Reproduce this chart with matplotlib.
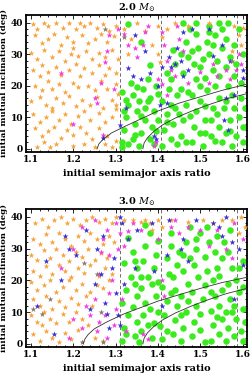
import numpy as np
import matplotlib
matplotlib.use("Agg")
import matplotlib.pyplot as plt

plt.rcParams['font.family'] = 'DejaVu Serif'
plt.rcParams['mathtext.fontset'] = 'dejavuserif'

# resonance locations (dashed lines)
res_lines = [1.3104, 1.4057, 1.5874]

# ---------------- top panel: 2.0 Msun ----------------
orange_top = [
    (1.105,39.5),(1.115,38),(1.13,40),(1.14,39),(1.16,40),(1.175,38.5),(1.19,39.8),(1.205,38),(1.215,40),
    (1.225,39),(1.24,40),(1.255,38.5),(1.27,39.6),(1.285,37.5),(1.3,39),
    (1.11,36),(1.125,33.5),(1.14,35),(1.155,36.5),(1.17,33),(1.185,35.5),(1.2,34),(1.22,36),(1.235,33.5),
    (1.25,35),(1.265,36.5),(1.28,34),(1.295,35.8),
    (1.1,30.5),(1.115,28.5),(1.13,31.5),(1.15,29),(1.165,31),(1.18,28),(1.195,30),(1.2,32),(1.21,29.5),
    (1.23,31),(1.245,28.5),(1.26,30.5),(1.275,29),(1.29,31.5),(1.305,28.5),
    (1.105,25),(1.12,23),(1.125,26.5),(1.14,24.5),(1.16,26),(1.17,23.5),(1.19,25),(1.205,27),(1.215,23),
    (1.225,25.5),(1.245,24),(1.26,26.5),(1.275,23.5),(1.285,25.5),(1.3,24),
    (1.11,20),(1.125,18.5),(1.14,21.5),(1.15,19),(1.165,20.5),(1.18,18),(1.2,21),(1.21,19.5),(1.235,20),
    (1.25,18.5),(1.265,21.5),(1.28,19),(1.3,20.5),(1.305,17.5),
    (1.1,15),(1.12,16.5),(1.135,14),(1.15,13),(1.16,16),(1.175,14.5),(1.19,16.8),(1.205,13.5),(1.22,15.5),
    (1.24,14),(1.255,16.5),(1.27,13),(1.29,15.5),(1.3,13.8),
    (1.105,11),(1.12,8.5),(1.135,10),(1.15,12),(1.165,9),(1.18,11),(1.195,8),(1.21,10.5),(1.225,12),
    (1.24,9),(1.26,11.5),(1.275,8.5),(1.29,10),(1.3,12.5),
    (1.11,6.5),(1.125,4),(1.14,5.5),(1.155,7),(1.17,3.5),(1.185,6),(1.2,4.5),(1.215,7),(1.23,5),
    (1.245,3),(1.26,6.5),(1.28,4),(1.3,2.5),
    (1.115,0.5),(1.13,2),(1.145,0.5),(1.16,1.5),(1.2,0.8),(1.225,1.5),(1.25,0.5),(1.275,1.5),(1.29,0.5),
    (1.32,38),(1.335,35),(1.35,40),(1.33,30),(1.37,37.5),(1.385,33),(1.4,39),(1.41,35.5),(1.42,38),
    (1.4,30),(1.405,27.5),(1.44,40),(1.47,39),(1.58,39),(1.59,36),(1.595,33),(1.575,31),(1.6,38.5),(1.52,40),
]
green_top = [
    (1.315,2),(1.32,6),(1.325,10),(1.33,14),(1.315,18),(1.335,21),(1.34,3),(1.345,8),(1.35,12),(1.34,17),
    (1.33,39.5),(1.315,0.5),
    (1.355,1),(1.36,5),(1.37,9),(1.355,15),(1.365,19),(1.375,22),(1.38,3),(1.385,7),(1.39,12),(1.38,16),
    (1.395,20),(1.36,34),(1.38,26.5),(1.37,13),(1.395,5.5),(1.4,9),
    (1.41,1),(1.415,6),(1.42,11),(1.41,15),(1.425,19),(1.43,3),(1.435,8),(1.44,13),(1.445,17),(1.43,22),
    (1.42,24),(1.445,1.5),(1.44,27),(1.435,31.5),
    (1.455,4),(1.46,9),(1.465,14),(1.455,19),(1.46,24),(1.47,29),(1.465,34),(1.475,38),(1.48,2),(1.485,7),
    (1.49,12),(1.48,17),(1.49,22),(1.485,27),(1.495,32),(1.49,36.5),(1.5,5),(1.5,15),(1.5,26),(1.475,10.5),
    (1.505,1),(1.51,9),(1.515,18.5),(1.51,22.5),(1.52,30),(1.515,34),(1.52,39),(1.525,4),(1.53,13),
    (1.535,20),(1.53,25),(1.54,28),(1.535,36),(1.545,7),(1.545,16),(1.54,11),(1.55,2),(1.55,32),(1.52,37),
    (1.505,28.5),
    (1.555,13),(1.56,5),(1.565,20),(1.56,26),(1.57,9),(1.575,1),(1.575,17),(1.58,13),(1.58,23),(1.585,4),
    (1.59,10),(1.595,16),(1.6,2),(1.6,7),(1.605,13),(1.595,21),(1.57,29),(1.56,35),(1.565,40),(1.58,33),
    (1.55,38),(1.545,40),
    (1.32,12),(1.33,1.5),(1.345,4.5),(1.36,10.5),(1.375,15),(1.39,1.5),(1.4,17.5),(1.42,8.5),(1.43,14),
    (1.45,11),(1.465,2),(1.47,18),(1.48,31),(1.5,20),(1.51,13.5),(1.525,9),(1.535,2.5),(1.545,23),(1.56,15),
    (1.57,5.5),(1.585,27),(1.6,30),(1.59,38),(1.46,40),(1.455,30),(1.49,40),(1.53,33),(1.51,5),(1.35,19.5),
    (1.325,15.5),
]
magenta_top = [
    (1.17,24),(1.2,8),(1.25,16),(1.255,14.5),(1.265,21),(1.28,31),(1.285,36),(1.275,27.5),(1.295,19),
    (1.305,38),(1.32,36.5),(1.33,33),(1.345,32),(1.35,29),(1.365,33),(1.37,37),(1.375,39),(1.41,37),
    (1.415,33),(1.42,28),(1.43,25),(1.41,20.5),(1.4,22),(1.42,17),(1.44,23),(1.45,35),(1.46,31),(1.445,39),
    (1.5,24.5),(1.52,21),(1.54,23),(1.56,25),(1.57,22),(1.585,25),(1.595,27),(1.59,30),(1.53,27),
    (1.395,2),(1.39,1),(1.47,21),(1.27,4.5),
]
blue_top = [
    (1.27,3.5),(1.31,7.5),(1.325,13),(1.33,25.5),(1.34,23),(1.36,22),(1.345,36),(1.37,31),(1.38,24),
    (1.4,20),(1.405,14),(1.41,26),(1.425,29),(1.43,26),(1.44,27),(1.445,32),(1.455,28),(1.46,37),(1.48,38),
    (1.47,25),(1.42,14.5),(1.39,4),(1.53,29.5),(1.55,33),(1.57,28),(1.6,22.5),(1.56,16),(1.555,9),
    (1.565,6),(1.58,17),(1.6,25),(1.395,3),(1.52,38),(1.46,23),
]
gray_top = [(1.32,35.5),(1.575,28),(1.275,38)]

curve1_top_x = [1.256, 1.26, 1.27, 1.29, 1.32, 1.36, 1.40, 1.45, 1.50, 1.55, 1.61]
curve1_top_y = [0.0, 1.5, 3.0, 5.0, 7.0, 9.5, 12.0, 14.5, 16.5, 18.5, 20.5]
curve2_top_x = [1.364, 1.367, 1.375, 1.39, 1.41, 1.44, 1.48, 1.52, 1.56, 1.61]
curve2_top_y = [0.0, 1.8, 3.5, 5.5, 7.5, 9.7, 12.0, 14.0, 15.8, 17.5]

# ---------------- bottom panel: 3.0 Msun ----------------
orange_bot = [
    (1.11,38),(1.125,39.5),(1.14,37),(1.155,39),(1.17,40),(1.185,38),(1.2,39.5),(1.215,37.5),(1.23,39),
    (1.245,40),(1.26,38.5),(1.275,39.5),(1.29,38),(1.3,40),
    (1.105,33),(1.12,31.5),(1.135,34.5),(1.15,32),(1.165,35),(1.18,33),(1.195,31),(1.21,34),(1.225,32.5),
    (1.24,35),(1.255,33),(1.27,31.5),(1.285,34),(1.295,32),
    (1.1,28),(1.115,26.5),(1.13,29.5),(1.145,27),(1.16,30),(1.175,28),(1.19,26),(1.205,29),(1.22,27.5),
    (1.235,30),(1.25,26.5),(1.265,28.5),(1.28,27),
    (1.105,23),(1.12,21.5),(1.135,24.5),(1.15,22),(1.165,25),(1.18,23),(1.195,21),(1.21,24),(1.225,22.5),
    (1.24,25),(1.26,21.5),(1.275,24),(1.29,22),
    (1.1,19.5),(1.115,17),(1.13,18.5),(1.145,20),(1.16,16.5),(1.175,18),(1.19,20),(1.205,17),(1.22,19),
    (1.24,16.5),(1.255,18.5),(1.27,17.5),(1.285,20),
    (1.105,14),(1.12,12),(1.135,15),(1.15,11),(1.165,13.5),(1.18,11.5),(1.195,14.5),(1.21,12.5),(1.23,15),
    (1.245,12),
    (1.1,9),(1.115,7),(1.125,6),(1.13,10),(1.145,8),(1.16,6.5),(1.175,9.5),(1.19,7),(1.205,10),(1.22,8),
    (1.235,6),
    (1.105,3),(1.12,1),(1.135,4),(1.15,2),(1.165,0.5),(1.18,3.5),(1.195,1.5),(1.21,4.5),(1.25,2),(1.27,1),
    (1.37,39),(1.38,38),(1.385,36),(1.4,39),(1.41,37),(1.36,38.5),(1.43,39),(1.47,38.5),(1.505,39),
    (1.53,38),(1.55,39),(1.575,39),(1.595,40),(1.59,35),(1.605,37),(1.32,39),(1.34,39),
]
green_bot = [
    (1.315,1),(1.32,5),(1.33,9),(1.315,13),(1.325,17),(1.335,21),(1.32,25.5),(1.34,29),(1.345,2.5),
    (1.35,7),(1.34,11.5),(1.35,15),(1.345,19),(1.33,33.5),(1.35,24),
    (1.355,0.5),(1.36,4),(1.365,9),(1.37,13),(1.36,17.5),(1.375,21),(1.365,26),(1.37,31),(1.38,35),
    (1.385,2),(1.39,6.5),(1.38,11),(1.395,15),(1.385,19),(1.39,24),(1.395,28),(1.4,10),(1.37,37.5),
    (1.41,1.5),(1.405,5.5),(1.415,9),(1.42,13.5),(1.41,18),(1.425,22),(1.42,27),(1.43,31),(1.435,3),
    (1.44,7.5),(1.445,12),(1.44,17),(1.435,21),(1.445,25),(1.45,29),
    (1.455,1),(1.46,5),(1.465,10),(1.455,15),(1.47,19),(1.46,23),(1.475,27),(1.465,32),(1.48,2.5),
    (1.485,7),(1.49,12),(1.48,16.5),(1.495,21),(1.485,25),(1.49,30),(1.5,35),(1.5,4.5),(1.5,9.5),(1.475,37),
    (1.505,14),(1.51,18.5),(1.515,23),(1.51,27.5),(1.52,32),(1.525,1),(1.53,6),(1.525,10.5),(1.535,15),
    (1.53,20),(1.54,24),(1.535,29),(1.545,3),(1.55,8),(1.545,12),(1.55,17),(1.545,21.5),(1.55,27),(1.54,34),
    (1.56,1),(1.565,5),(1.56,10),(1.57,14),(1.565,19),(1.575,24),(1.58,2.5),(1.585,8),(1.58,12),(1.59,16.5),
    (1.585,20),(1.595,4),(1.6,11),(1.6,18),(1.605,7),(1.6,1),(1.565,29),(1.555,32),(1.6,26),(1.57,36),
    (1.325,3),(1.345,26),(1.36,21),(1.375,6),(1.4,19.5),(1.42,4),(1.43,16),(1.455,9),(1.47,13.5),
    (1.49,33),(1.515,37),(1.525,16.5),(1.54,8.5),(1.575,10),(1.59,24),(1.51,0.5),(1.46,28),(1.4,32.5),(1.43,35),
]
magenta_bot = [
    (1.17,24),(1.2,30),(1.19,2),(1.2,8),(1.22,5),(1.23,12),(1.24,9),(1.25,14),(1.255,4),(1.26,22),
    (1.265,29),(1.27,33),(1.275,9),(1.28,2),(1.285,16),(1.29,20),(1.3,11),(1.295,6),(1.305,30),(1.28,36),
    (1.3,38),(1.31,35),(1.33,35.5),(1.32,31),(1.315,14),(1.325,4),(1.34,38),(1.36,36),(1.4,33),(1.415,15),
    (1.43,37),(1.44,39),(1.45,35),(1.47,37),(1.5,36),(1.52,31),(1.54,36),(1.56,30),(1.58,38),(1.6,33),
    (1.575,27),(1.41,20),(1.375,1.5),(1.365,3),(1.26,7),(1.285,28),(1.22,37),(1.25,39),
]
blue_bot = [
    (1.115,12),(1.135,26),(1.155,3),(1.18,34),(1.19,30),(1.205,28),(1.17,20),(1.23,36),(1.24,11),(1.25,19),
    (1.255,30),(1.265,22),(1.275,13),(1.285,5),(1.27,34),(1.29,24),(1.3,16),(1.305,9),(1.31,40),(1.315,38),
    (1.295,27),(1.32,19),(1.33,33),(1.345,24),(1.35,36),(1.385,38),(1.39,23),(1.41,12),(1.42,28),(1.425,39),
    (1.455,30),(1.46,33),(1.47,26),(1.49,39),(1.53,38),(1.55,34),(1.56,40),(1.575,32),(1.59,30),(1.6,25),
    (1.58,14),(1.545,37),(1.28,9.5),(1.31,6),
]
gray_bot = [(1.105,11),(1.125,9.5),(1.145,14),(1.225,25.5),(1.255,22),(1.265,10),(1.22,0.5),(1.27,0.5)]

curve1_bot_x = [1.223, 1.227, 1.235, 1.25, 1.28, 1.32, 1.36, 1.40, 1.45, 1.50, 1.55, 1.61]
curve1_bot_y = [0.0, 1.5, 3.0, 4.8, 7.0, 9.5, 11.5, 13.5, 15.5, 17.5, 19.3, 21.0]
curve2_bot_x = curve2_top_x
curve2_bot_y = curve2_top_y

c_orange = '#F5A33A'
c_green = '#3CEB1E'
c_magenta = '#F23CE0'
c_blue = '#3A2FD0'
c_gray = '#8C7A6A'

fig = plt.figure(figsize=(2.5, 3.74), dpi=100)
ax1 = fig.add_axes([0.104, 0.594, 0.884, 0.366])
ax2 = fig.add_axes([0.104, 0.072, 0.884, 0.369])

panels = [
    (ax1, r'$\mathbf{2.0}\ M_{\odot}$', orange_top, green_top, magenta_top, blue_top, gray_top,
     (curve1_top_x, curve1_top_y), (curve2_top_x, curve2_top_y)),
    (ax2, r'$\mathbf{3.0}\ M_{\odot}$', orange_bot, green_bot, magenta_bot, blue_bot, gray_bot,
     (curve1_bot_x, curve1_bot_y), (curve2_bot_x, curve2_bot_y)),
]

for ax, title, orange, green, magenta, blue, gray, c1, c2 in panels:
    def sc(pts, **kw):
        p = np.array(pts)
        ax.scatter(p[:, 0], p[:, 1], linewidths=0, **kw)
    sc(orange, s=20, marker='*', color=c_orange, zorder=3)
    sc(green, s=22, marker='o', color=c_green, zorder=2)
    sc(magenta, s=20, marker='*', color=c_magenta, zorder=4)
    sc(blue, s=20, marker='*', color=c_blue, zorder=4)
    sc(gray, s=20, marker='*', color=c_gray, zorder=4)
    for xv in res_lines:
        ax.axvline(xv, color='#555555', ls=(0, (4, 3)), lw=0.6, zorder=1)
    ax.plot(c1[0], c1[1], color='#333333', lw=0.6, zorder=5)
    ax.plot(c2[0], c2[1], color='#333333', lw=0.6, zorder=5)

    ax.set_xlim(1.088, 1.61)
    ax.set_ylim(-1.0, 42.5)
    ax.set_xticks([1.1, 1.2, 1.3, 1.4, 1.5, 1.6])
    ax.set_xticklabels(['1.1', '1.2', '1.3', '1.4', '1.5', '1.6'])
    ax.set_yticks([0, 10, 20, 30, 40])
    ax.set_xticks(np.arange(1.1, 1.61, 0.02), minor=True)
    ax.set_yticks(np.arange(0, 42, 2), minor=True)
    ax.tick_params(which='both', direction='in', top=True, right=True, width=0.6)
    ax.tick_params(which='major', length=3, labelsize=6.5, pad=2)
    ax.tick_params(which='minor', length=1.5)
    for lab in ax.get_xticklabels() + ax.get_yticklabels():
        lab.set_fontweight('bold')
    for sp in ax.spines.values():
        sp.set_linewidth(1.3)
    ax.set_title(title, fontsize=7, pad=3)
    ax.set_xlabel('initial semimajor axis ratio', fontsize=7, fontweight='bold', labelpad=4)
    ax.set_ylabel('initial mutual inclination (deg)', fontsize=6, fontweight='bold', labelpad=2)

fig.savefig('out.png', dpi=100)
